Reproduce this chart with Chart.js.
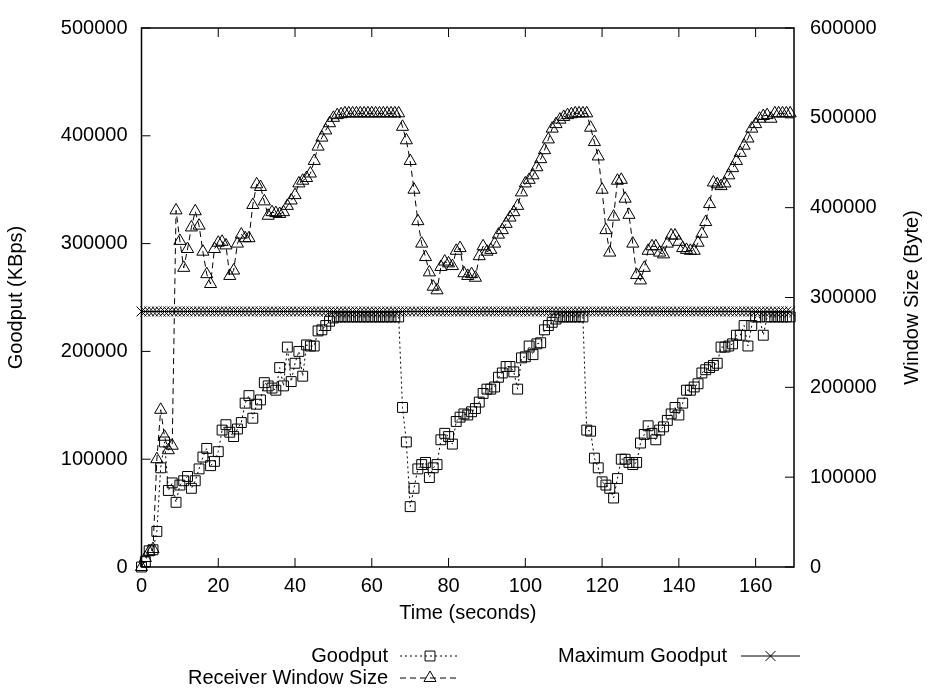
<!DOCTYPE html>
<html>
<head>
<meta charset="utf-8">
<script src="https://cdn.jsdelivr.net/npm/chart.js@4.4.1/dist/chart.umd.min.js"></script>
<style>
  html, body { margin: 0; padding: 0; background: #fff; }
</style>
</head>
<body>
<canvas id="chart" width="928" height="689"></canvas>
<script>
// time in seconds
const times = [
  0, 1, 2, 3, 4, 5, 6, 7, 8, 9, 10, 11, 12, 13, 14, 15, 16, 17, 18, 19,
  20, 21, 22, 23, 24, 25, 26, 27, 28, 29, 30, 31, 32, 33, 34, 35, 36, 37, 38, 39,
  40, 41, 42, 43, 44, 45, 46, 47, 48, 49, 50, 51, 52, 53, 54, 55, 56, 57, 58, 59,
  60, 61, 62, 63, 64, 65, 66, 67, 68, 69, 70, 71, 72, 73, 74, 75, 76, 77, 78, 79,
  80, 81, 82, 83, 84, 85, 86, 87, 88, 89, 90, 91, 92, 93, 94, 95, 96, 97, 98, 99,
  100, 101, 102, 103, 104, 105, 106, 107, 108, 109, 110, 111, 112, 113, 114, 115, 116, 117, 118, 119,
  120, 121, 122, 123, 124, 125, 126, 127, 128, 129, 130, 131, 132, 133, 134, 135, 136, 137, 138, 139,
  140, 141, 142, 143, 144, 145, 146, 147, 148, 149, 150, 151, 152, 153, 154, 155, 156, 157, 158, 159,
  160, 161, 162, 163, 164, 165, 166, 167, 168, 169
];

// Goodput (KBps), left axis
const goodput = [
  0, 5000, 15000, 16000, 33000, 92000, 116000, 71000, 78000, 60000,
  76000, 80000, 84000, 73000, 80000, 91000, 102000, 110000, 94000, 98000,
  107000, 127000, 132000, 125000, 121000, 128000, 134000, 152000, 159000, 138000,
  151000, 155000, 171000, 168000, 166000, 164000, 185000, 168000, 204000, 172000,
  189000, 200000, 177000, 206000, 205000, 205000, 219000, 220000, 224000, 228000,
  231000, 232000, 232000, 232000, 232000, 232000, 232000, 232000, 232000, 232000,
  232000, 232000, 232000, 232000, 232000, 232000, 232000, 232000, 148000, 116000,
  56000, 73000, 91000, 95000, 97000, 83000, 92000, 95000, 118000, 124000,
  121000, 114000, 135000, 139000, 142000, 141000, 144000, 147000, 153000, 161000,
  165000, 165000, 167000, 176000, 180000, 186000, 186000, 181000, 165000, 194000,
  195000, 205000, 197000, 207000, 208000, 220000, 224000, 227000, 230000, 232000,
  232000, 232000, 232000, 232000, 232000, 232000, 127000, 126000, 101000, 92000,
  79000, 76000, 73000, 64000, 82000, 100000, 100000, 97000, 95000, 97000,
  115000, 123000, 131000, 124000, 118000, 127000, 130000, 136000, 142000, 148000,
  141000, 152000, 164000, 164000, 167000, 170000, 180000, 183000, 185000, 187000,
  189000, 204000, 204000, 205000, 207000, 215000, 215000, 224000, 205000, 224000,
  232000, 232000, 215000, 232000, 232000, 232000, 232000, 232000, 232000, 232000
];

// Receiver window size (Byte), right axis
const windowSize = [
  0, 10000, 17000, 20000, 120000, 175000, 145000, 130000, 135000, 397000,
  363000, 333000, 354000, 378000, 396000, 380000, 351000, 326000, 315000, 354000,
  361000, 362000, 358000, 324000, 330000, 360000, 370000, 366000, 366000, 403000,
  426000, 423000, 407000, 391000, 395000, 394000, 393000, 395000, 402000, 408000,
  414000, 427000, 430000, 433000, 438000, 452000, 468000, 478000, 486000, 494000,
  500000, 503000, 504000, 505000, 505000, 505000, 505000, 505000, 505000, 505000,
  505000, 505000, 505000, 505000, 505000, 505000, 505000, 505000, 490000, 475000,
  452000, 420000, 385000, 360000, 345000, 328000, 312000, 308000, 334000, 340000,
  338000, 335000, 352000, 355000, 327000, 324000, 326000, 322000, 346000, 357000,
  351000, 353000, 360000, 370000, 375000, 382000, 389000, 395000, 402000, 417000,
  427000, 431000, 436000, 445000, 454000, 464000, 476000, 488000, 493000, 498000,
  501000, 503000, 504000, 505000, 505000, 505000, 505000, 489000, 473000, 457000,
  420000, 375000, 350000, 390000, 430000, 431000, 410000, 392000, 360000, 325000,
  319000, 333000, 352000, 357000, 357000, 350000, 348000, 360000, 369000, 369000,
  362000, 355000, 353000, 352000, 352000, 361000, 371000, 384000, 404000, 428000,
  426000, 424000, 427000, 436000, 444000, 452000, 461000, 469000, 477000, 488000,
  493000, 499000, 502000, 503000, 499000, 505000, 505000, 505000, 505000, 505000
];

// Maximum goodput (KBps), constant
const maxGoodput = 237000;

const xTicks = [0, 20, 40, 60, 80, 100, 120, 140, 160];
const yTicks = [0, 100000, 200000, 300000, 400000, 500000];
const y2Ticks = [0, 100000, 200000, 300000, 400000, 500000, 600000];

const FONT = 'Liberation Sans, Arial, Helvetica, sans-serif';

const pts = (ys) => times.map((t, i) => ({ x: t, y: ys[i] }));

// gnuplot-like frame with inward ticks, plus the y2 label rotated like the y label
const framePlugin = {
  id: 'frame',
  afterDatasetsDraw(chart) {
    const { ctx, chartArea: a, scales } = chart;
    const tl = 9;
    ctx.save();
    ctx.strokeStyle = '#000';
    ctx.lineWidth = 1.5;
    ctx.setLineDash([]);
    ctx.strokeRect(a.left, a.top, a.right - a.left, a.bottom - a.top);
    ctx.lineWidth = 1;
    ctx.beginPath();
    xTicks.forEach(v => {
      const x = scales.x.getPixelForValue(v);
      ctx.moveTo(x, a.bottom); ctx.lineTo(x, a.bottom - tl);
      ctx.moveTo(x, a.top); ctx.lineTo(x, a.top + tl);
    });
    yTicks.forEach(v => {
      const y = scales.y.getPixelForValue(v);
      ctx.moveTo(a.left, y); ctx.lineTo(a.left + tl, y);
    });
    y2Ticks.forEach(v => {
      const y = scales.y2.getPixelForValue(v);
      ctx.moveTo(a.right, y); ctx.lineTo(a.right - tl, y);
    });
    ctx.stroke();

    ctx.translate(912, (a.top + a.bottom) / 2);
    ctx.rotate(-Math.PI / 2);
    ctx.font = '20px ' + FONT;
    ctx.fillStyle = '#000';
    ctx.textAlign = 'center';
    ctx.textBaseline = 'middle';
    ctx.fillText('Window Size (Byte)', 0, 0);
    ctx.restore();
  }
};

// legend laid out like gnuplot's key below the plot
const keyPlugin = {
  id: 'key',
  afterDraw(chart) {
    const ctx = chart.ctx;
    const items = [
      { ds: 0, textRight: 388, x0: 400, x1: 460, y: 656 },
      { ds: 1, textRight: 388, x0: 400, x1: 460, y: 678 },
      { ds: 2, textRight: 727, x0: 741, x1: 800, y: 656 }
    ];
    ctx.save();
    ctx.font = '20px ' + FONT;
    ctx.textAlign = 'right';
    ctx.textBaseline = 'middle';
    items.forEach(it => {
      const d = chart.data.datasets[it.ds];
      ctx.fillStyle = '#000';
      ctx.fillText(d.label, it.textRight, it.y);
      ctx.strokeStyle = '#000';
      ctx.lineWidth = 1;
      ctx.setLineDash(d.borderDash || []);
      ctx.beginPath();
      ctx.moveTo(it.x0, it.y); ctx.lineTo(it.x1, it.y);
      ctx.stroke();
      ctx.setLineDash([]);
      ctx.fillStyle = 'rgba(0,0,0,0)';
      Chart.helpers.drawPoint(ctx, {
        pointStyle: d.pointStyle, radius: d.pointRadius, rotation: 0, borderWidth: 1
      }, (it.x0 + it.x1) / 2, it.y);
    });
    ctx.restore();
  }
};

const tickFont = { family: FONT, size: 20 };

new Chart(document.getElementById('chart').getContext('2d'), {
  type: 'line',
  data: {
    datasets: [
      {
        label: 'Goodput',
        data: pts(goodput),
        yAxisID: 'y',
        borderColor: '#000',
        borderWidth: 1,
        borderDash: [2, 3],
        pointStyle: 'rect',
        pointRadius: 7,
        pointBorderColor: '#000',
        pointBackgroundColor: 'rgba(0,0,0,0)',
        pointBorderWidth: 1,
        clip: false
      },
      {
        label: 'Receiver Window Size',
        data: pts(windowSize),
        yAxisID: 'y2',
        borderColor: '#000',
        borderWidth: 1,
        borderDash: [6, 4],
        pointStyle: 'triangle',
        pointRadius: 7,
        pointBorderColor: '#000',
        pointBackgroundColor: 'rgba(0,0,0,0)',
        pointBorderWidth: 1,
        clip: false
      },
      {
        label: 'Maximum Goodput',
        data: times.map(t => ({ x: t, y: maxGoodput })),
        yAxisID: 'y',
        borderColor: '#000',
        borderWidth: 1,
        pointStyle: 'crossRot',
        pointRadius: 7,
        pointBorderColor: '#000',
        pointBorderWidth: 1,
        clip: false
      }
    ]
  },
  options: {
    responsive: false,
    animation: false,
    events: [],
    layout: { padding: { top: 17, left: 0, right: 0, bottom: 60 } },
    plugins: { legend: { display: false }, tooltip: { enabled: false } },
    scales: {
      x: {
        type: 'linear',
        min: 0,
        max: 170,
        afterFit: (s) => { s.height = 62; },
        grid: { display: false, drawTicks: false },
        border: { display: false },
        ticks: {
          stepSize: 20, includeBounds: false, autoSkip: false, maxRotation: 0,
          color: '#000', font: tickFont, padding: 7,
          callback: (v) => String(v)
        },
        title: { display: true, text: 'Time (seconds)', color: '#000', font: tickFont, padding: 4 }
      },
      y: {
        position: 'left',
        min: 0,
        max: 500000,
        afterFit: (s) => { s.width = 141.5; },
        grid: { display: false, drawTicks: false },
        border: { display: false },
        ticks: { stepSize: 100000, color: '#000', font: tickFont, padding: 14, callback: (v) => String(v) },
        title: { display: true, text: 'Goodput (KBps)', color: '#000', font: tickFont, padding: 4 }
      },
      y2: {
        position: 'right',
        min: 0,
        max: 600000,
        afterFit: (s) => { s.width = 134; },
        grid: { display: false, drawTicks: false },
        border: { display: false },
        ticks: { stepSize: 100000, color: '#000', font: tickFont, padding: 16, callback: (v) => String(v) },
        title: { display: false, text: 'Window Size (Byte)' }
      }
    }
  },
  plugins: [framePlugin, keyPlugin]
});
</script>
</body>
</html>
